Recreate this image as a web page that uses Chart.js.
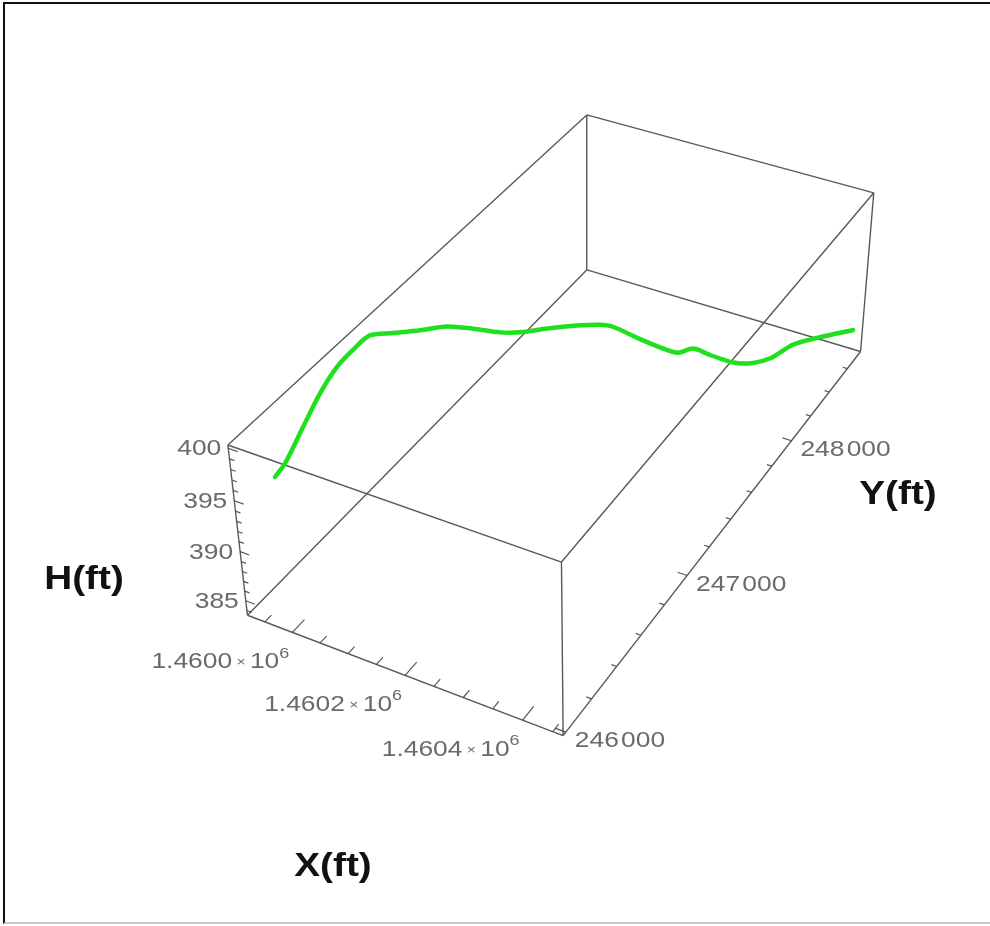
<!DOCTYPE html><html><head><meta charset="utf-8"><script src="https://cdn.jsdelivr.net/npm/chart.js@4.4.1/dist/chart.umd.min.js"></script>
<style>body{margin:0;background:#fff;overflow:hidden}#wrap{position:relative;width:990px;height:926px}
#frame{position:absolute;left:3px;top:2px;width:1000px;height:918px;border-top:2px solid #111;border-left:2px solid #111;border-bottom:2px solid #c8c8c8;pointer-events:none}</style></head><body>
<div id="wrap"><canvas id="c" width="990" height="926"></canvas><div id="frame"></div></div>
<script>
// ---- data (feet) ----
const trackX = [1459963, 1459959, 1459944, 1459933, 1459929, 1459934, 1459944, 1459969, 1459994, 1460019, 1460043, 1460070, 1460093, 1460118,
  1460148, 1460172, 1460185, 1460216, 1460253, 1460270, 1460289, 1460317, 1460341, 1460361, 1460385, 1460417, 1460456];
const trackY = [246091, 246174, 246354, 246520, 246659, 246756, 246839, 246908, 247005, 247102, 247199, 247296, 247379, 247467,
  247581, 247670, 247720, 247844, 247983, 248049, 248118, 248210, 248287, 248354, 248456, 248567, 248708];
const trackH = [396.6, 396.7, 397.4, 398.3, 399.0, 399.5, 400.0, 399.8, 399.3, 398.9, 397.9, 396.8, 396.2, 395.9,
  395.3, 394.7, 394.1, 391.7, 389.3, 389.2, 388.0, 386.5, 385.9, 385.9, 386.5, 386.5, 386.2];

// ---- axis ranges and ticks ----
const X_RANGE = [1459918, 1460467];
const Y_RANGE = [245980, 248750];
const H_RANGE = [383.5, 400.3];
const H_TICKS = [385, 390, 395, 400];
const H_LABELS = ['385', '390', '395', '400'];
const X_TICKS = [1460000, 1460200, 1460400];
const X_LABELS = ['1.4600', '1.4602', '1.4604'];
const Y_TICKS = [246000, 247000, 248000];
const Y_LABELS = ['246\u200a000', '247\u200a000', '248\u200a000'];
const H_MINOR = 1, X_MINOR = 50, Y_MINOR = 200;

// ---- view calibration: unit-box corners (u,v,w) -> chart units ----
const VIEW = [[0,0,1,228,445],[1,0,1,562,563],[1,1,1,873,192],[0,1,1,587,115],
              [0,0,0,247,615],[1,0,0,563,735],[1,1,0,861,352],[0,1,0,587,270]];
function fitCamera(){
  const A=[],b=[];
  for(const [U,V,W,x,y] of VIEW){A.push([U,V,W,1,0,0,0,0,-x*U,-x*V,-x*W]);b.push(x);A.push([0,0,0,0,U,V,W,1,-y*U,-y*V,-y*W]);b.push(y);}
  const n=11;const M=[...Array(n)].map(()=>Array(n+1).fill(0));
  for(let r=0;r<A.length;r++)for(let i=0;i<n;i++){for(let j=0;j<n;j++)M[i][j]+=A[r][i]*A[r][j];M[i][n]+=A[r][i]*b[r];}
  for(let i=0;i<n;i++){let q=i;for(let k=i+1;k<n;k++)if(Math.abs(M[k][i])>Math.abs(M[q][i]))q=k;const t=M[i];M[i]=M[q];M[q]=t;
    for(let k=0;k<n;k++){if(k===i)continue;const f=M[k][i]/M[i][i];for(let j=i;j<=n;j++)M[k][j]-=f*M[i][j];}}
  return M.map((r,i)=>r[n]/r[i]);
}
const cam = fitCamera();
function nrm(v,r){return (v-r[0])/(r[1]-r[0]);}
function proj(U,V,W){const d=cam[8]*U+cam[9]*V+cam[10]*W+1;return {x:(cam[0]*U+cam[1]*V+cam[2]*W+cam[3])/d,y:(cam[4]*U+cam[5]*V+cam[6]*W+cam[7])/d};}
function project(X,Y,H){return proj(nrm(X,X_RANGE),nrm(Y,Y_RANGE),nrm(H,H_RANGE));}

const GAP={x:0,y:null};
const edges=[];
[[0,0,0,1,0,0],[0,1,0,1,1,0],[0,0,1,1,0,1],[0,1,1,1,1,1],[0,0,0,0,1,0],[1,0,0,1,1,0],[0,0,1,0,1,1],[1,0,1,1,1,1],
 [0,0,0,0,0,1],[1,0,0,1,0,1],[1,1,0,1,1,1],[0,1,0,0,1,1]].forEach(e=>{edges.push(proj(e[0],e[1],e[2]),proj(e[3],e[4],e[5]),GAP);});
function tickRange(r,step){const a=[];for(let v=Math.ceil(r[0]/step)*step;v<=r[1]+1e-9;v+=step)a.push(+v.toFixed(6));return a;}
const ticks=[];
tickRange(H_RANGE,H_MINOR).forEach(h=>{const L=H_TICKS.includes(h)?0.03:0.016;const w=nrm(h,H_RANGE);ticks.push(proj(0,0,w),proj(L,0,w),GAP);});
tickRange(X_RANGE,X_MINOR).forEach(x=>{const L=X_TICKS.includes(x)?0.03:0.016;const u=nrm(x,X_RANGE);ticks.push(proj(u,0,0),proj(u,L,0),GAP);});
tickRange(Y_RANGE,Y_MINOR).forEach(y=>{const L=Y_TICKS.includes(y)?0.03:0.016;const v=nrm(y,Y_RANGE);ticks.push(proj(1,v,0),proj(1-L,v,0),GAP);});
const curve=trackX.map((x,i)=>project(x,trackY[i],trackH[i]));

// ---- text helpers ----
function txt(ctx,s,x,y,font,color,align,stretch){ctx.save();ctx.font=font;ctx.fillStyle=color;ctx.textBaseline='middle';ctx.textAlign='left';
  const w=ctx.measureText(s).width*stretch;const left=align==='right'?x-w:align==='center'?x-w/2:x;ctx.translate(left,y);ctx.scale(stretch,1);ctx.fillText(s,0,0);ctx.restore();return w;}
function width(ctx,s,font,stretch){ctx.save();ctx.font=font;const w=ctx.measureText(s).width*stretch;ctx.restore();return w;}
const TICKF='22px "Liberation Sans", Arial, sans-serif', SMALLF='13px "Liberation Sans", Arial, sans-serif',
      SUPF='15px "Liberation Sans", Arial, sans-serif', TITLEF='bold 34px "Liberation Sans", Arial, sans-serif';
const GRAY='#6a6a6a', ST=1.2;
const labels3d={id:'labels3d',afterDatasetsDraw(chart){
  const ctx=chart.ctx,sx=chart.scales.x,sy=chart.scales.y;
  const P=(X,Y,H)=>{const q=project(X,Y,H);return [sx.getPixelForValue(q.x),sy.getPixelForValue(q.y)];};
  H_TICKS.forEach((h,i)=>{const [x,y]=P(X_RANGE[0],Y_RANGE[0],h);txt(ctx,H_LABELS[i],x-7,y+1,TICKF,GRAY,'right',ST);});
  Y_TICKS.forEach((v,i)=>{const [x,y]=P(X_RANGE[1],v,H_RANGE[0]);txt(ctx,Y_LABELS[i],x+9,y+9,TICKF,GRAY,'left',ST);});
  X_TICKS.forEach((v,i)=>{const [x,y]=P(v,Y_RANGE[0],H_RANGE[0]);
    const parts=[[X_LABELS[i],TICKF,0],[' \u00d7 ',SMALLF,0],['10',TICKF,0],['6',SUPF,-9]];
    let tw=0;parts.forEach(pp=>tw+=width(ctx,pp[0],pp[1],ST));
    let cx=x-72-tw/2;const cy=y+30;
    parts.forEach(pp=>{cx+=txt(ctx,pp[0],cx,cy+pp[2],pp[1],GRAY,'left',ST);});});
  txt(ctx,'H(ft)',sx.getPixelForValue(84),sy.getPixelForValue(580),TITLEF,'#111','center',1.14);
  txt(ctx,'Y(ft)',sx.getPixelForValue(898),sy.getPixelForValue(495),TITLEF,'#111','center',1.14);
  txt(ctx,'X(ft)',sx.getPixelForValue(333),sy.getPixelForValue(867),TITLEF,'#111','center',1.14);
}};

new Chart(document.getElementById('c'),{type:'line',
  data:{datasets:[
    {label:'track',data:curve,borderColor:'#1fe01f',borderWidth:4.5,pointRadius:0,tension:0.3,fill:false,borderCapStyle:'round',borderJoinStyle:'round'},
    {label:'ticks',data:ticks,borderColor:'rgba(70,70,70,0.9)',borderWidth:1.2,pointRadius:0,spanGaps:false,tension:0},
    {label:'box',data:edges,borderColor:'rgba(60,60,60,0.85)',borderWidth:1.4,pointRadius:0,spanGaps:false,tension:0}]},
  options:{responsive:false,animation:false,devicePixelRatio:1,layout:{padding:0},
    plugins:{legend:{display:false},tooltip:{enabled:false},title:{display:false}},
    scales:{x:{type:'linear',min:0,max:990,display:false},y:{type:'linear',min:0,max:926,reverse:true,display:false}}},
  plugins:[labels3d]});
</script></body></html>
